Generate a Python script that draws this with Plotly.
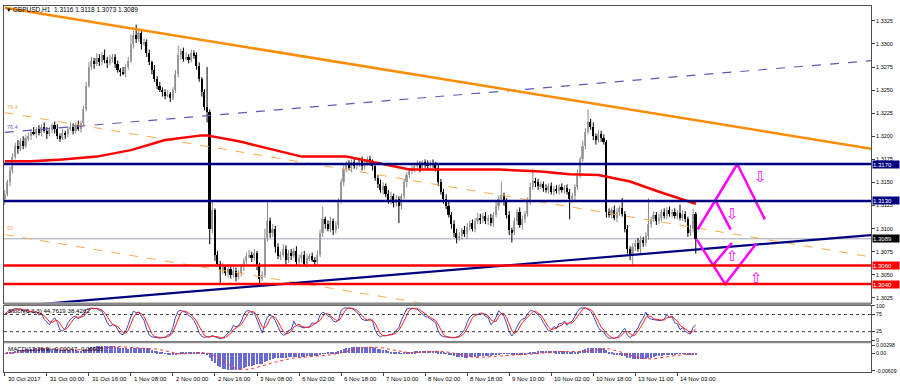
import numpy as np
import plotly.graph_objects as go
from plotly.subplots import make_subplots

# ---------------- data (prices in pips above 1.3000) ----------------
BASE = 1.3000
PIP = 0.0001
open_first = 132
close_pips = [
    138, 150, 162, 178, 190, 186, 195, 190, 198,
    200, 205, 203, 208, 204, 210, 206, 203, 207, 212, 208, 200, 198, 204, 202, 208, 210, 206, 212, 208, 214,
    230, 255, 275,
    282, 278, 285, 280, 288, 283, 279, 284, 286,
    278, 272, 270, 268, 275, 282,
    300, 310, 305, 312, 300, 302,
    290, 280, 272, 262, 255, 250, 248,
    244, 246, 242, 250,
    268, 288, 292, 284, 286, 283, 290, 288,
    276, 262, 248, 232, 226,
    100, 120, 72,
    62, 55, 58, 52, 56, 50, 54, 48, 52, 58,
    65, 70, 72, 68, 74, 60, 46, 50,
    90, 108, 95, 100, 80,
    70, 72, 78, 66, 74, 70, 76, 64, 68, 72, 62, 68, 70, 66, 64, 72,
    95, 110, 105, 100, 108, 98, 104, 130, 150, 165,
    170, 166, 172, 168, 170, 174, 168, 171, 175, 172, 168,
    155, 148, 142, 146, 138, 130, 135, 128, 132, 125,
    135, 150, 158, 162,
    165, 168, 170, 166, 172, 170, 168, 171, 169, 166,
    150, 140, 132, 125, 115, 105, 95, 90,
    92, 98, 94, 102, 106, 100, 108, 112, 110, 114, 108, 112, 106,
    115, 125, 132, 136, 130,
    115, 98, 96,
    108, 118, 104, 110, 116,
    130, 145, 152, 150, 146, 148,
    144, 142, 146, 140, 143, 141, 145, 142, 144, 140,
    132, 135,
    145, 160, 175, 190, 205, 215,
    210, 200, 196, 203, 198, 194,
    118,
    115, 120, 112, 118, 122, 116,
    100, 78, 70,
    80, 85, 78, 88, 84, 92, 105,
    110, 115, 108, 112, 118, 114, 120, 116, 118,
    114, 117, 112, 116, 110,
    95, 100, 116, 89,
]
wick_up = [
    4, 3, 5, 4, 3, 6, 3, 5, 4,
    4, 3, 5, 2, 4, 3, 5, 4, 3, 2, 4, 5, 3, 4, 2, 3, 5, 4, 3, 5, 3,
    3, 4, 5,
    4, 3, 5, 4, 3, 6, 3, 4, 3,
    3, 4, 2, 5, 3, 4,
    10, 4, 11, 2, 3, 4,
    3, 4, 2, 5, 3, 4, 3,
    3, 4, 2, 3,
    4, 10, 3, 4, 5, 3, 4, 3,
    3, 4, 2, 3, 43,
    3, 10, 2,
    4, 3, 5, 2, 4, 3, 5, 4, 3, 4,
    3, 4, 5, 3, 4, 2, 3, 4,
    10, 21, 4, 5, 3,
    4, 3, 5, 4, 3, 4, 3, 5, 4, 3, 4, 5, 3, 4, 3, 4,
    4, 14, 3, 4, 5, 3, 4, 3, 4, 5,
    3, 4, 3, 4, 2, 3, 4, 3, 3, 4, 3,
    4, 3, 5, 4, 3, 4, 5, 3, 4, 3,
    3, 4, 3, 4,
    4, 3, 4, 3, 2, 3, 4, 3, 4, 3,
    3, 4, 3, 5, 4, 3, 4, 5,
    4, 3, 5, 4, 3, 4, 3, 5, 4, 3, 4, 3, 4,
    3, 4, 4, 15, 3,
    3, 4, 3,
    4, 3, 5, 4, 3,
    4, 5, 13, 3, 4, 3,
    3, 4, 3, 4, 3, 4, 3, 4, 3, 4,
    3, 4,
    3, 4, 3, 5, 4, 14,
    4, 5, 3, 4, 3, 4,
    2,
    4, 3, 5, 4, 3, 11,
    3, 4, 3,
    4, 3, 5, 4, 3, 4, 28,
    3, 4, 3, 4, 3, 4, 3, 4, 3,
    4, 3, 9, 4, 3,
    3, 4, 5, 2,
]
wick_dn = [
    6, 3, 4, 2, 3, 5, 2, 4, 3,
    3, 4, 2, 5, 3, 4, 2, 6, 3, 4, 5, 3, 4, 2, 5, 3, 2, 4, 3, 2, 4,
    2, 3, 2,
    3, 5, 2, 4, 3, 4, 5, 2, 4,
    4, 3, 5, 2, 4, 3,
    3, 5, 4, 3, 6, 2,
    4, 3, 5, 3, 4, 2, 5,
    4, 2, 5, 3,
    3, 4, 5, 3, 2, 4, 3, 4,
    4, 3, 5, 4, 11,
    17, 5, 7,
    3, 15, 4, 3, 5, 4, 3, 5, 3, 4,
    4, 3, 2, 4, 3, 5, 6, 3,
    3, 4, 5, 4, 6,
    3, 4, 3, 5, 3, 4, 2, 4, 3, 5, 3, 4, 3, 2, 4, 3,
    3, 4, 5, 3, 4, 5, 3, 4, 3, 4,
    4, 3, 5, 3, 4, 3, 5, 4, 3, 4, 5,
    3, 4, 3, 5, 4, 3, 4, 5, 4, 19,
    4, 3, 5, 3,
    3, 4, 3, 5, 3, 4, 3, 4, 3, 4,
    4, 3, 5, 4, 3, 5, 4, 6,
    3, 4, 3, 5, 4, 3, 4, 3, 5, 4, 3, 4, 3,
    4, 3, 5, 4, 5,
    4, 5, 11,
    3, 4, 3, 5, 4,
    3, 4, 3, 5, 4, 3,
    4, 3, 4, 3, 4, 3, 4, 3, 4, 3,
    22, 4,
    4, 3, 5, 3, 4, 3,
    3, 4, 5, 3, 4, 3,
    6,
    3, 4, 3, 5, 4, 3,
    4, 5, 4,
    10, 4, 3, 5, 4, 3, 4,
    4, 3, 4, 3, 4, 3, 4, 3, 4,
    3, 4, 3, 4, 3,
    4, 3, 4, 16,
]

# moving average (red) read at a few bars
ma_bars = [0, 10, 22, 35, 48, 61, 75, 77, 90, 101, 113, 130, 143, 154, 188, 204, 215, 226, 238, 249, 263]
ma_vals = [1.3173, 1.3173, 1.3175, 1.3178, 1.3185, 1.3196, 1.3201, 1.3201, 1.3194, 1.3186, 1.3178,
           1.3178, 1.3170, 1.3164, 1.3164, 1.3162, 1.3159, 1.3158, 1.3151, 1.3140, 1.3127]

# horizontal levels
navy_levels = [1.3170, 1.3130]
red_levels = [1.3060, 1.3040]
bid_price = 1.3089

# trend lines: (bar, price) end points
orange_trend_x = [0, 330]
orange_trend_y = [1.33391, 1.31864]
navy_trend_x = [0, 330]
navy_trend_y = [1.30151, 1.30931]
blue_dash_x = [0, 330]
blue_dash_y = [1.32042, 1.32820]
fib764_x = [0, 330]
fib764_y = [1.32256, 1.30692]
fib50_x = [0, 330]
fib50_y = [1.30935, 1.29393]

# projection zigzags (magenta)
proj_up_big_x = [263.7, 278.8, 289.3]
proj_up_big_y = [1.30991, 1.3170, 1.3110]
proj_up_small_x = [270.6, 276.3]
proj_up_small_y = [1.3130, 1.3099]
proj_dn_big_x = [263.3, 274.2, 286.0]
proj_dn_big_y = [1.30884, 1.3040, 1.30837]
proj_dn_small_x = [269.4, 276.7]
proj_dn_small_y = [1.3060, 1.30845]
arrow_down_x = [287.8, 276.8]
arrow_down_y = [1.31564, 1.31155]
arrow_up_x = [276.8, 286.3]
arrow_up_y = [1.30704, 1.30468]

# axis labels
price_ticks = [1.3025, 1.3050, 1.3075, 1.3100, 1.3125, 1.3150, 1.3175, 1.3200, 1.3225, 1.3250, 1.3275, 1.3300, 1.3325]
time_tick_bars = list(range(0, 257, 16))
time_tick_labels = ["30 Oct 2017", "31 Oct 00:00", "31 Oct 16:00", "1 Nov 08:00", "2 Nov 00:00", "2 Nov 16:00",
                    "3 Nov 08:00", "6 Nov 02:00", "6 Nov 18:00", "7 Nov 10:00", "8 Nov 02:00", "8 Nov 18:00",
                    "9 Nov 10:00", "10 Nov 02:00", "10 Nov 18:00", "13 Nov 11:00", "14 Nov 03:00"]
title_text = "▾ GBPUSD,H1  1.3116 1.3118 1.3073 1.3089"
stoch_text = "Stoch(5,3,3) 44.7619 38.4262"
macd_text = "MACD(12,26,9) -0.00047 -0.00035"

# ---------------- derived series ----------------
closes = BASE + np.array(close_pips, dtype=float) * PIP
opens = np.concatenate([[BASE + open_first * PIP], closes[:-1]])
highs = np.maximum(opens, closes) + np.array(wick_up, dtype=float) * PIP
lows = np.minimum(opens, closes) - np.array(wick_dn, dtype=float) * PIP
n = len(closes)
idx = np.arange(n)

# Stochastic (5,3,3)
K, D, S = 5, 3, 3
hh = np.array([highs[max(0, i - K + 1):i + 1].max() for i in range(n)])
ll = np.array([lows[max(0, i - K + 1):i + 1].min() for i in range(n)])
num = closes - ll
den = hh - ll
stoch_k = np.array([100 * num[max(0, i - S + 1):i + 1].sum() / max(den[max(0, i - S + 1):i + 1].sum(), 1e-9)
                    for i in range(n)])
stoch_d = np.array([stoch_k[max(0, i - D + 1):i + 1].mean() for i in range(n)])


def ema(x, p):
    a = 2.0 / (p + 1)
    out = np.empty_like(x)
    out[0] = x[0]
    for i in range(1, len(x)):
        out[i] = a * x[i] + (1 - a) * out[i - 1]
    return out


macd = ema(closes, 12) - ema(closes, 26)
macd_sig = np.array([macd[max(0, i - 8):i + 1].mean() for i in range(n)])

# ---------------- figure ----------------
W, H = 900, 387
ML, MR, MT, MB = 3, 27, 3, 15
PH = H - MT - MB


def py(pix):  # pixel y -> paper y
    return (H - MB - pix) / PH


fig = make_subplots(rows=3, cols=1, shared_xaxes=True, vertical_spacing=0)

# candles drawn as wick lines + body bars
up = closes >= opens
body_lo = np.minimum(opens, closes)
body_h = np.maximum(np.abs(closes - opens), 0.4 * PIP)
for mask, wick_col, body_col in [(up, "#8a8a8a", "#a9a9a9"), (~up, "#000000", "#000000")]:
    wx, wy = [], []
    for i in idx[mask]:
        wx += [i, i, None]
        wy += [lows[i], highs[i], None]
    fig.add_trace(go.Scatter(x=wx, y=wy, mode="lines", line=dict(color=wick_col, width=1),
                             showlegend=False, hoverinfo="skip"), row=1, col=1)
    fig.add_trace(go.Bar(x=idx[mask], y=body_h[mask], base=body_lo[mask], width=0.62,
                         marker=dict(color=body_col, line=dict(width=0)),
                         showlegend=False, hoverinfo="skip"), row=1, col=1)

line_specs = [
    (fib764_x, fib764_y, "#f8ac4a", 1, "dash"),
    (fib50_x, fib50_y, "#f8ac4a", 1, "dash"),
    (blue_dash_x, blue_dash_y, "#5a5ab8", 1.2, "dash"),
    (orange_trend_x, orange_trend_y, "#ff8c00", 2.5, "solid"),
    (navy_trend_x, navy_trend_y, "#000080", 2.2, "solid"),
    (ma_bars, ma_vals, "#ff0000", 2.5, "solid"),
]
for xs, ys, col, w, dash in line_specs:
    fig.add_trace(go.Scatter(x=xs, y=ys, mode="lines", line=dict(color=col, width=w, dash=dash),
                             showlegend=False, hoverinfo="skip"), row=1, col=1)

for xs, ys in [(proj_up_big_x, proj_up_big_y), (proj_up_small_x, proj_up_small_y),
               (proj_dn_big_x, proj_dn_big_y), (proj_dn_small_x, proj_dn_small_y)]:
    fig.add_trace(go.Scatter(x=xs, y=ys, mode="lines", line=dict(color="#ff00ff", width=2.5),
                             showlegend=False, hoverinfo="skip"), row=1, col=1)

# stochastic
fig.add_trace(go.Scatter(x=idx, y=stoch_k, mode="lines", line=dict(color="#4646b4", width=1),
                         showlegend=False, hoverinfo="skip"), row=2, col=1)
fig.add_trace(go.Scatter(x=idx, y=stoch_d, mode="lines", line=dict(color="#ff2020", width=1),
                         showlegend=False, hoverinfo="skip"), row=2, col=1)
# MACD
fig.add_trace(go.Bar(x=idx, y=macd, width=0.4, marker=dict(color="#6a6ad2", line=dict(width=0)),
                     showlegend=False, hoverinfo="skip"), row=3, col=1)
fig.add_trace(go.Scatter(x=idx, y=macd_sig, mode="lines", line=dict(color="#ff3030", width=1, dash="dot"),
                         showlegend=False, hoverinfo="skip"), row=3, col=1)

shapes = []
for lv in navy_levels:
    shapes.append(dict(type="line", xref="x domain", yref="y", x0=0, x1=1, y0=lv, y1=lv,
                       line=dict(color="#000080", width=2.5)))
for lv in red_levels:
    shapes.append(dict(type="line", xref="x domain", yref="y", x0=0, x1=1, y0=lv, y1=lv,
                       line=dict(color="#ff0000", width=2.5)))
shapes.append(dict(type="line", xref="x domain", yref="y", x0=0, x1=1, y0=bid_price, y1=bid_price,
                   line=dict(color="#a0a6b4", width=1), layer="below"))
for lv in [25, 75]:
    shapes.append(dict(type="line", xref="x2 domain", yref="y2", x0=0, x1=1, y0=lv, y1=lv,
                       line=dict(color="#404040", width=1, dash="dot")))
# panel separators
for top, bot in [(302, 305), (341, 343)]:
    shapes.append(dict(type="rect", xref="paper", yref="paper", x0=0, x1=1, y0=py(bot), y1=py(top),
                       fillcolor="#8a8a8a", line=dict(width=0), layer="above"))

ann = []
ann.append(dict(text=title_text, xref="paper", yref="paper", x=0, y=py(7), xanchor="left", yanchor="middle",
                showarrow=False, font=dict(size=6.5, color="#000000"), xshift=1))
ann.append(dict(text=stoch_text, xref="paper", yref="paper", x=0, y=py(310), xanchor="left", yanchor="middle",
                showarrow=False, font=dict(size=6.2, color="#000000"), xshift=2))
ann.append(dict(text=macd_text, xref="paper", yref="paper", x=0, y=py(348), xanchor="left", yanchor="middle",
                showarrow=False, font=dict(size=6.2, color="#000000"), xshift=2))
# fib labels
for txt, yv, col in [("76.4", 1.32321, "#f8ac4a"), ("76.4", 1.32106, "#5a5ab8"), ("50", 1.31005, "#f8ac4a")]:
    ann.append(dict(text=txt, xref="x", yref="y", x=-0.3, y=yv, xanchor="left", yanchor="middle",
                    showarrow=False, font=dict(size=5.5, color=col), xshift=1))
# price boxes on right axis
for lv, bg in [(navy_levels[0], "#000080"), (navy_levels[1], "#000080"),
               (bid_price, "#000000"), (red_levels[0], "#ff0000"), (red_levels[1], "#ff0000")]:
    ann.append(dict(text=f"{lv:.4f}", xref="paper", yref="y", x=1, y=lv, xanchor="left", yanchor="middle",
                    showarrow=False, font=dict(size=6, color="#ffffff"), bgcolor=bg, borderpad=0,
                    width=26, height=7, align="left", xshift=1))
# arrows
for xs, ys, ch in [(arrow_down_x, arrow_down_y, "⇩"), (arrow_up_x, arrow_up_y, "⇧")]:
    for xv, yv in zip(xs, ys):
        ann.append(dict(text=ch, xref="x", yref="y", x=xv, y=yv, showarrow=False,
                        font=dict(size=15, color="#ff00ff", family="DejaVu Sans")))
# time labels
for b, t in zip(time_tick_bars, time_tick_labels):
    ann.append(dict(text=t, xref="x3", yref="paper", x=b, y=py(379), xanchor="left", yanchor="middle",
                    showarrow=False, font=dict(size=6, color="#000000"), xshift=1))

fig.update_layout(
    width=W, height=H, margin=dict(l=ML, r=MR, t=MT, b=MB),
    paper_bgcolor="#ffffff", plot_bgcolor="#ffffff",
    font=dict(family="Liberation Sans, Arial, sans-serif", size=6, color="#000000"),
    shapes=shapes, annotations=ann, bargap=0, barmode="overlay", showlegend=False,
)

axis_common = dict(showgrid=False, zeroline=False, showline=True, mirror=True, linecolor="#505050", linewidth=1)
xr = [-0.3, 329.7]
fig.update_xaxes(range=xr, showticklabels=False, ticks="", rangeslider_visible=False, **axis_common)
fig.update_xaxes(ticks="outside", ticklen=3, tickcolor="#404040", tickvals=time_tick_bars, row=3, col=1)

fig.update_layout(
    yaxis=dict(domain=[py(302), py(3)], range=[1.301995, 1.33411], side="right", tickvals=price_ticks,
               tickformat=".4f", ticks="outside", ticklen=3, tickcolor="#404040",
               tickfont=dict(size=5.5), **axis_common),
    yaxis2=dict(domain=[py(341), py(305)], range=[-3, 101.1], side="right", tickvals=[0, 25, 75, 100],
                ticks="outside", ticklen=3, tickcolor="#404040", tickfont=dict(size=5.2), **axis_common),
    yaxis3=dict(domain=[py(372), py(343)], range=[-0.0065, 0.0036], side="right",
                tickvals=[-0.00609, 0, 0.00298], ticktext=["-0.00609", "0.00", "0.00298"],
                ticks="outside", ticklen=3, tickcolor="#404040", tickfont=dict(size=5.2), **axis_common),
)

fig.write_html("out.html")
